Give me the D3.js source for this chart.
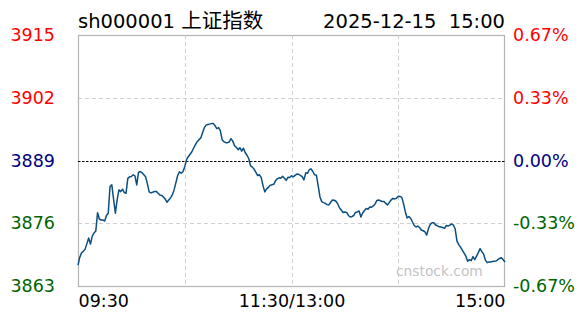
<!DOCTYPE html>
<html><head><meta charset="utf-8">
<script src="https://cdn.jsdelivr.net/npm/d3@7"></script>
<style>
body{margin:0;background:#fff;}
svg{display:block;}
text{font-family:"DejaVu Sans",Verdana,sans-serif;}
</style>
</head><body>
<svg id="c" width="588" height="324"></svg>
<script>
// ---------------- data ----------------
const symbol = "sh000001";
const indexName = "上证指数";
const dateTime = "2025-12-15  15:00";
const watermark = "cnstock.com";
const prevClose = 3889;
const priceTicks = [3915, 3902, 3889, 3876, 3863];
const pctLabels = ["0.67%", "0.33%", "0.00%", "-0.33%", "-0.67%"];
const timeTicks = [0, 60, 120, 180, 240];          // minutes from open (lunch break removed)
const timeLabels = ["09:30", "", "11:30/13:00", "", "15:00"];
// one value per trading minute, index = minutes after 09:30 (13:00 continues at 120)
const prices = [
3867.31,3868.97,3869.87,3870.20,3870.64,3871.78,3872.93,3871.68,3873.34,3873.97,
3874.38,3878.19,3876.88,3876.67,3876.67,3876.46,3877.60,3878.07,3883.60,3883.95,
3881.00,3878.07,3880.83,3882.91,3882.56,3883.06,3882.35,3882.23,3885.30,3885.62,
3885.68,3886.04,3885.83,3883.95,3886.51,3886.72,3886.45,3886.04,3885.62,3884.16,
3882.50,3882.29,3882.43,3882.60,3882.60,3882.23,3881.87,3881.77,3881.46,3881.04,
3880.35,3880.83,3881.25,3881.87,3882.91,3884.37,3885.83,3886.66,3886.35,3886.66,
3887.70,3889.16,3889.78,3890.30,3890.82,3891.59,3892.28,3892.90,3893.32,3893.67,
3894.77,3895.81,3896.33,3896.44,3896.54,3896.64,3896.64,3896.23,3895.60,3895.81,
3895.19,3893.32,3892.90,3892.70,3892.70,3892.84,3893.53,3893.01,3892.07,3891.72,
3891.24,3891.65,3890.92,3891.55,3890.61,3890.09,3889.36,3887.90,3887.63,3887.18,
3886.55,3885.88,3886.04,3885.47,3883.75,3882.50,3883.12,3883.43,3883.85,3883.99,
3884.06,3884.79,3885.20,3885.41,3885.31,3885.72,3885.31,3884.89,3885.52,3885.47,
3885.83,3885.62,3885.93,3886.18,3886.14,3885.93,3885.68,3884.99,3886.45,3886.35,
3887.08,3887.28,3886.72,3886.04,3885.93,3883.75,3881.46,3880.48,3880.27,3880.11,
3879.86,3879.80,3880.35,3880.83,3880.77,3880.56,3880.00,3879.17,3878.75,3878.23,
3878.34,3878.23,3877.61,3877.30,3877.40,3877.61,3878.23,3878.34,3878.54,3877.30,
3878.13,3878.65,3879.07,3878.90,3879.38,3879.32,3879.59,3880.00,3880.73,3880.83,
3880.67,3880.52,3880.52,3880.11,3879.80,3880.32,3880.83,3881.14,3881.04,3881.19,
3881.60,3881.56,3881.35,3880.00,3878.34,3877.09,3877.40,3876.98,3876.26,3875.53,
3875.22,3875.42,3875.11,3874.59,3874.45,3874.24,3873.55,3874.95,3875.74,3876.11,
3876.11,3875.63,3875.47,3875.26,3875.22,3875.11,3874.95,3875.53,3875.42,3875.63,
3875.84,3875.63,3874.80,3872.30,3871.57,3871.05,3870.43,3869.81,3869.18,3868.14,
3868.45,3868.24,3869.08,3868.45,3869.18,3869.91,3870.74,3870.12,3869.60,3868.35,
3867.83,3867.99,3867.99,3868.08,3868.14,3868.18,3868.45,3868.70,3868.87,3868.45,
3867.99
];

// ---------------- layout ----------------
const L = 78, R = 505, T = 35, B = 286;
const svg = d3.select("#c");
const x = d3.scaleLinear().domain([0, 240]).range([L, R]);
const y = d3.scaleLinear().domain([d3.min(priceTicks), d3.max(priceTicks)]).range([B, T]);
const colorFor = v => v > prevClose ? "#ff0000" : (v < prevClose ? "#006400" : "#000080");

// title
svg.append("text").attr("x", L).attr("y", 28).attr("font-size", 19.5).attr("fill", "#000")
  .style("white-space", "pre")
  .html(`${symbol} <tspan font-family="'Noto Sans CJK SC',sans-serif" font-size="20.5">${indexName}</tspan>`);
svg.append("text").attr("x", R).attr("y", 28).attr("font-size", 19.5).attr("fill", "#000")
  .attr("text-anchor", "end").style("white-space", "pre").text(dateTime);

// grid
const grid = svg.append("g");
grid.selectAll(".hg").data(priceTicks.filter(v => v !== prevClose && v !== d3.min(priceTicks) && v !== d3.max(priceTicks)))
  .join("line").attr("x1", L).attr("x2", R)
  .attr("y1", d => Math.round(y(d)) + 0.5).attr("y2", d => Math.round(y(d)) + 0.5)
  .attr("stroke", "#d0d0d0").attr("stroke-dasharray", "4,3");
grid.selectAll(".vg").data(timeTicks.slice(1, -1))
  .join("line").attr("y1", T).attr("y2", B)
  .attr("x1", d => Math.round(x(d)) + 0.5).attr("x2", d => Math.round(x(d)) + 0.5)
  .attr("stroke", "#d0d0d0").attr("stroke-dasharray", "4,3");

// frame
svg.append("rect").attr("x", L + 0.5).attr("y", T + 0.5).attr("width", R - L - 1).attr("height", B - T)
  .attr("fill", "none").attr("stroke", "#b4b4b4").attr("stroke-width", 1.2);

// previous close line
svg.append("line").attr("x1", L).attr("x2", R)
  .attr("y1", Math.round(y(prevClose)) + 0.5).attr("y2", Math.round(y(prevClose)) + 0.5)
  .attr("stroke", "#000").attr("stroke-dasharray", "2.5,1.5");

// watermark
svg.append("text").attr("x", 396).attr("y", 276).attr("font-size", 13.8).attr("fill", "#c4c4c4").text(watermark);

// price line
const line = d3.line().x((d, i) => x(i)).y(d => y(d));
svg.append("path").datum(prices).attr("d", line)
  .attr("fill", "none").attr("stroke", "#0b4f82").attr("stroke-width", 1.5).attr("stroke-linejoin", "round");

// left axis
const ax = svg.append("g").attr("transform", `translate(${L},0)`)
  .call(d3.axisLeft(y).tickValues(priceTicks).tickSize(0).tickPadding(23).tickFormat(d3.format("d")));
ax.select(".domain").remove();
ax.selectAll("text").attr("font-size", 17.5).attr("font-family", null).attr("fill", d => colorFor(d));

// right axis
const ar = svg.append("g").attr("transform", `translate(${R},0)`)
  .call(d3.axisRight(y).tickValues(priceTicks).tickSize(0).tickPadding(8)
    .tickFormat((d, i) => pctLabels[i]));
ar.select(".domain").remove();
ar.selectAll("text").attr("font-size", 17.5).attr("font-family", null).attr("fill", d => colorFor(d));

// bottom axis
const ab = svg.append("g").attr("transform", `translate(0,${B})`)
  .call(d3.axisBottom(x).tickValues(timeTicks).tickSize(0).tickPadding(9)
    .tickFormat((d, i) => timeLabels[i]));
ab.select(".domain").remove();
ab.selectAll("text").attr("font-size", 17.5).attr("font-family", null).attr("fill", "#000")
  .attr("text-anchor", (d, i) => i === 0 ? "start" : (i === timeTicks.length - 1 ? "end" : "middle"));
</script>
</body></html>
